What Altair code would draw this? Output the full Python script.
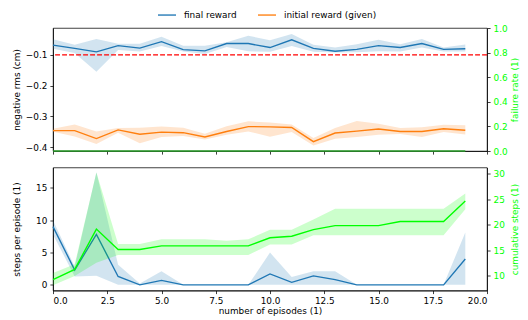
import altair as alt
import pandas as pd

# ---------------- data ----------------
episodes = [0, 1, 2, 3, 4, 5, 6, 7, 8, 9, 10, 11, 12, 13, 14, 15, 16, 17, 18, 19]

final_reward = [-0.068, -0.079, -0.090, -0.070, -0.078, -0.057, -0.083, -0.087, -0.063, -0.063,
                -0.076, -0.051, -0.079, -0.088, -0.082, -0.070, -0.076, -0.063, -0.082, -0.080]
final_hi = [-0.049, -0.067, -0.048, -0.064, -0.064, -0.041, -0.070, -0.070, -0.059, -0.038,
            -0.052, -0.032, -0.067, -0.076, -0.065, -0.051, -0.065, -0.048, -0.076, -0.066]
final_lo = [-0.080, -0.094, -0.155, -0.084, -0.089, -0.071, -0.089, -0.097, -0.074, -0.088,
            -0.090, -0.071, -0.090, -0.092, -0.091, -0.088, -0.089, -0.076, -0.089, -0.089]

initial_reward = [-0.346, -0.346, -0.372, -0.344, -0.358, -0.351, -0.353, -0.367, -0.349, -0.333,
                  -0.334, -0.336, -0.382, -0.354, -0.348, -0.341, -0.349, -0.349, -0.340, -0.345]
initial_hi = [-0.340, -0.326, -0.349, -0.338, -0.337, -0.333, -0.337, -0.356, -0.332, -0.316,
              -0.320, -0.326, -0.370, -0.338, -0.315, -0.324, -0.338, -0.335, -0.327, -0.329]
initial_lo = [-0.350, -0.365, -0.390, -0.353, -0.387, -0.367, -0.364, -0.375, -0.360, -0.349,
              -0.366, -0.351, -0.395, -0.373, -0.367, -0.360, -0.357, -0.367, -0.351, -0.359]

failure_rate = [0, 0, 0, 0, 0, 0, 0, 0, 0, 0, 0, 0, 0, 0, 0, 0, 0, 0, 0, 0]

steps = [9.0, 2.3, 7.8, 1.3, 0.0, 0.7, 0.0, 0.0, 0.0, 0.0, 1.7, 0.4, 1.4, 0.8, 0.0, 0.0, 0.0, 0.0, 0.0, 4.0]
steps_hi = [10.0, 2.8, 17.4, 3.1, 0.2, 2.1, 0.0, 0.0, 0.0, 0.0, 5.0, 1.2, 2.1, 2.1, 0.0, 0.0, 0.0, 0.0, 0.0, 8.1]
steps_lo = [7.8, 1.3, 1.4, 0.0, 0.0, 0.0, 0.0, 0.0, 0.0, 0.0, 0.0, 0.0, 0.0, 0.0, 0.0, 0.0, 0.0, 0.0, 0.0, 0.0]

cum_steps = [9.2, 11.2, 19.1, 15.1, 15.1, 15.8, 15.8, 15.8, 15.8, 15.8,
             17.4, 17.7, 19.0, 19.8, 19.8, 19.8, 20.6, 20.6, 20.6, 24.6]
cum_hi = [10.5, 12.2, 30.2, 16.2, 16.2, 17.1, 17.1, 17.1, 16.8, 17.1,
          19.0, 19.0, 21.0, 23.1, 23.1, 23.1, 23.1, 23.1, 23.1, 26.1]
cum_lo = [8.1, 9.9, 12.5, 14.0, 14.0, 14.0, 14.0, 14.0, 14.0, 14.0,
          16.1, 16.1, 17.9, 17.9, 17.9, 17.9, 17.9, 17.9, 17.9, 23.0]

series_names = ["final reward", "initial reward (given)"]
x_ticks = [0, 2.5, 5, 7.5, 10, 12.5, 15, 17.5, 20]
threshold = -0.1

# ---------------- style ----------------
FONT = "DejaVu Sans"
FS = 8.9
W, H = 434, 123
BLUE, ORANGE, LIME, DKGREEN, RED = "#1f77b4", "#ff7f0e", "#00ff00", "#2ca02c", "#ff0000"
LW = 1.35

df = pd.DataFrame({
    "x": episodes,
    "final": final_reward, "final_hi": final_hi, "final_lo": final_lo,
    "init": initial_reward, "init_hi": initial_hi, "init_lo": initial_lo,
    "fail": failure_rate,
    "steps": steps, "steps_hi": steps_hi, "steps_lo": steps_lo,
    "cum": cum_steps, "cum_hi": cum_hi, "cum_lo": cum_lo,
})

long_top = pd.concat([
    pd.DataFrame({"x": episodes, "y": final_reward, "series": series_names[0]}),
    pd.DataFrame({"x": episodes, "y": initial_reward, "series": series_names[1]}),
])

xscale = alt.Scale(domain=[0, 20], nice=False, zero=False)
x_top = alt.X("x:Q", scale=xscale,
              axis=alt.Axis(values=x_ticks, labels=False, title=None, ticks=True))
x_bot = alt.X("x:Q", scale=xscale,
              axis=alt.Axis(values=x_ticks, format=".1f", title="number of episodes (1)",
                            titlePadding=0.5))

# ---- top panel ----
ly_scale = alt.Scale(domain=[-0.4125, -0.0125], nice=False, zero=False)
ly_axis = alt.Axis(values=[-0.4, -0.3, -0.2, -0.1], format=".1f", title="negative rms (cm)",
                   titleX=-36.5, titleBaseline="middle", titleAngle=270)

base_top = alt.Chart(df)
band_final = base_top.mark_area(color=BLUE, opacity=0.2).encode(
    x=x_top, y=alt.Y("final_lo:Q", scale=ly_scale, axis=ly_axis), y2="final_hi:Q")
band_init = base_top.mark_area(color=ORANGE, opacity=0.2).encode(
    x=x_top, y=alt.Y("init_lo:Q", scale=ly_scale, axis=ly_axis), y2="init_hi:Q")
lines_top = alt.Chart(long_top).mark_line(strokeWidth=LW).encode(
    x=x_top, y=alt.Y("y:Q", scale=ly_scale, axis=ly_axis),
    color=alt.Color("series:N",
                    scale=alt.Scale(domain=series_names, range=[BLUE, ORANGE]),
                    legend=alt.Legend(title=None, orient="none", direction="horizontal",
                                      legendX=104, legendY=-23,
                                      symbolType="stroke", symbolSize=324,
                                      symbolStrokeWidth=LW, labelOffset=7,
                                      columnPadding=18, labelFontSize=FS,
                                      labelFont=FONT, labelColor="black")))
rule = alt.Chart(pd.DataFrame({"t": [threshold]})).mark_rule(
    color=RED, strokeDash=[4.9, 2.1], strokeWidth=LW).encode(
    y=alt.Y("t:Q", scale=ly_scale, axis=ly_axis))

left_top = alt.layer(band_final, band_init, lines_top, rule)

ry_scale = alt.Scale(domain=[0, 1], nice=False, zero=False)
fail_line = base_top.mark_line(color=DKGREEN, strokeWidth=LW).encode(
    x=x_top,
    y=alt.Y("fail:Q", scale=ry_scale,
            axis=alt.Axis(orient="right", values=[0, 0.2, 0.4, 0.6, 0.8, 1.0], format=".1f",
                          title="failure rate (1)", labelColor=LIME, titleColor=LIME,
                          titleX=27, titleBaseline="middle", titleAngle=270)))

top = alt.layer(left_top, fail_line).resolve_scale(y="independent").properties(width=W, height=H)

# ---- bottom panel ----
sy_scale = alt.Scale(domain=[-0.87, 18.15], nice=False, zero=False)
sy_axis = alt.Axis(values=[0, 5, 10, 15], title="steps per episode (1)",
                   titleX=-36.5, titleBaseline="middle", titleAngle=270)
base_bot = alt.Chart(df)
band_steps = base_bot.mark_area(color=BLUE, opacity=0.2).encode(
    x=x_bot, y=alt.Y("steps_lo:Q", scale=sy_scale, axis=sy_axis), y2="steps_hi:Q")
line_steps = base_bot.mark_line(color=BLUE, strokeWidth=LW).encode(
    x=x_bot, y=alt.Y("steps:Q", scale=sy_scale, axis=sy_axis))
left_bot = alt.layer(band_steps, line_steps)

cy_scale = alt.Scale(domain=[7.05, 31.2], nice=False, zero=False)
cy_axis = alt.Axis(orient="right", values=[10, 15, 20, 25, 30], title="cumulative steps (1)",
                   labelColor=LIME, titleColor=LIME, titleX=27, titleBaseline="middle",
                   titleAngle=270)
band_cum = base_bot.mark_area(color=LIME, opacity=0.2).encode(
    x=x_bot, y=alt.Y("cum_lo:Q", scale=cy_scale, axis=cy_axis), y2="cum_hi:Q")
line_cum = base_bot.mark_line(color=LIME, strokeWidth=LW).encode(
    x=x_bot, y=alt.Y("cum:Q", scale=cy_scale, axis=cy_axis))
right_bot = alt.layer(band_cum, line_cum)

bottom = alt.layer(left_bot, right_bot).resolve_scale(y="independent").properties(width=W, height=H)

chart = alt.vconcat(top, bottom, spacing=9.5).properties(
    padding={"left": 12, "top": 5, "right": 0, "bottom": 0},
    background="white",
).configure_view(stroke="black", strokeWidth=0.75).configure_axis(
    labelFont=FONT, titleFont=FONT, labelFontSize=FS, titleFontSize=FS,
    titleFontWeight="normal", grid=False, tickColor="black", domainColor="black",
    labelColor="black", titleColor="black", tickSize=3.1, labelPadding=3,
    domainWidth=0.75, tickWidth=0.75,
).configure_legend(labelFont=FONT)

chart.save("out.html", embed_options={"renderer": "svg", "actions": False})
